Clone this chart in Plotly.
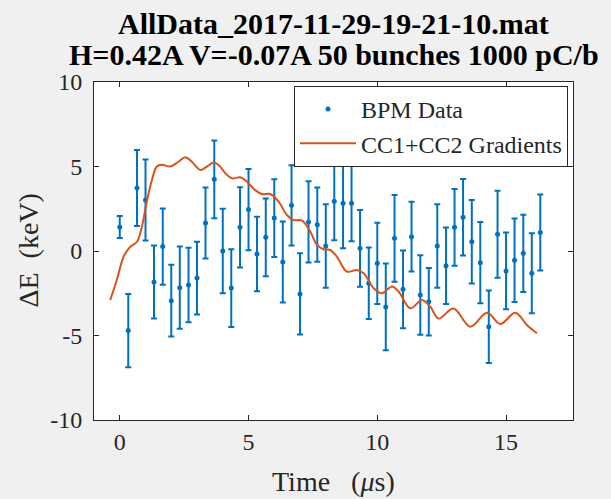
import plotly.graph_objects as go

# ---- data ----
bpm_time = [0.00, 0.33, 0.67, 1.00, 1.33, 1.67, 2.00, 2.33, 2.67, 3.00,
            3.33, 3.67, 4.00, 4.33, 4.67, 5.00, 5.33, 5.67, 6.00, 6.33,
            6.67, 7.00, 7.33, 7.67, 8.00, 8.33, 8.67, 9.00, 9.33, 9.67,
            10.00, 10.33, 10.67, 11.00, 11.33, 11.67, 12.00, 12.33, 12.67, 13.00,
            13.33, 13.67, 14.00, 14.33, 14.67, 15.00, 15.33, 15.67, 16.00, 16.33]
bpm_dE = [1.42, -4.71, 3.73, 3.02, -1.83, 0.26, -2.94, -2.17, -2.01, -1.60,
          1.66, 4.24, 0.00, -2.19, 1.40, 2.45, -0.18, 0.81, 1.95, -0.65,
          2.70, -2.54, 1.72, 1.56, 0.30, 2.94, 2.82, 2.82, 0.16, -1.91,
          -0.73, -3.31, 0.75, -2.27, 0.85, -2.60, -3.00, 0.30, -0.87, 1.40,
          2.00, 0.55, -0.69, -4.48, 0.99, -1.18, -0.55, -0.14, -1.32, 1.10]
bpm_err = [0.65, 2.17, 2.25, 2.40, 2.16, 2.25, 2.12, 2.43, 2.20, 2.15,
           2.10, 2.30, 2.50, 2.30, 2.37, 2.40, 2.20, 2.30, 2.30, 2.40,
           2.37, 2.40, 2.40, 2.20, 2.47, 2.30, 2.66, 2.25, 2.27, 2.11,
           2.40, 2.57, 2.57, 2.30, 2.07, 2.35, 2.00, 2.47, 2.26, 2.27,
           2.26, 2.47, 2.40, 2.14, 2.58, 2.27, 2.47, 2.28, 2.37, 2.25]

grad_time = [-0.37, -0.11, 0.15, 0.41, 0.67, 0.86, 1.06, 1.25, 1.44, 1.64,
             1.96, 2.28, 2.54, 2.80, 3.13, 3.39, 3.64, 3.84, 4.10, 4.36,
             4.68, 4.94, 5.26, 5.52, 5.84, 6.17, 6.49, 6.75, 7.08, 7.40,
             7.66, 7.91, 8.17, 8.43, 8.82, 9.21, 9.47, 9.86, 10.18, 10.57,
             10.83, 11.28, 11.74, 12.06, 12.38, 12.96, 13.61, 14.26, 14.78, 15.36,
             15.81, 16.20]
grad_dE = [-2.90, -1.70, -0.33, 0.25, 0.55, 1.44, 3.00, 4.20, 5.00, 5.10,
           5.00, 5.28, 5.54, 5.28, 4.80, 5.00, 5.23, 5.09, 4.60, 4.30,
           4.36, 4.10, 3.60, 3.37, 3.37, 2.92, 2.13, 1.83, 1.80, 1.14,
           0.36, 0.10, 0.06, -0.33, -1.22, -1.12, -1.32, -2.20, -2.50, -2.10,
           -2.40, -3.39, -2.90, -3.30, -4.00, -3.40, -4.48, -3.65, -4.32, -3.65,
           -4.38, -4.87]

x_ticks = [0, 5, 10, 15]
x_ticklabels = ["0", "5", "10", "15"]
y_ticks = [-10, -5, 0, 5, 10]
y_ticklabels = ["-10", "-5", "0", "5", "10"]

title_lines = ["AllData_2017-11-29-19-21-10.mat",
               "H=0.42A V=-0.07A 50 bunches 1000 pC/b"]
x_label = "Time&nbsp;&nbsp;&nbsp;(<i>μ</i>s)"
y_label = "ΔE&nbsp;&nbsp;(keV)"

FONT = "Liberation Serif"
BLUE = "#0072BD"
ORANGE = "#D95319"
AX = "#262626"

# plot-area geometry (pixels)
L, R, T, B = 94, 38, 82, 79
PW, PH = 611 - L - R, 499 - T - B

fig = go.Figure()
fig.add_trace(go.Scatter(
    x=bpm_time, y=bpm_dE, mode="markers", name="BPM Data",
    marker=dict(color=BLUE, size=5),
    error_y=dict(type="data", array=bpm_err, visible=True,
                 color=BLUE, thickness=2, width=3),
))
fig.add_trace(go.Scatter(
    x=grad_time, y=grad_dE, mode="lines", name="CC1+CC2 Gradients",
    line=dict(color=ORANGE, width=2, shape="spline", smoothing=1.0),
))

axis_common = dict(
    showgrid=False, zeroline=False, showline=True, linecolor=AX, linewidth=1,
    mirror="allticks", ticks="inside", ticklen=5, tickcolor=AX, tickwidth=1,
    tickfont=dict(family=FONT, size=24, color=AX), automargin=False,
)

def px_x(p):
    return (p - L) / PW

def px_y(p):
    return (499 - B - p) / PH

fig.update_layout(
    width=611, height=499,
    paper_bgcolor="#f0f0f0", plot_bgcolor="white",
    margin=dict(l=L, r=R, t=T, b=B),
    showlegend=True,
    legend=dict(x=px_x(568), y=px_y(86), xanchor="right", yanchor="top",
                bgcolor="white", bordercolor=AX, borderwidth=1,
                font=dict(family=FONT, size=24, color=AX),
                tracegroupgap=0, itemwidth=56),
    xaxis=dict(range=[-1, 17.6], tickvals=x_ticks, ticktext=x_ticklabels,
               **axis_common),
    yaxis=dict(range=[-10, 10], tickvals=y_ticks, ticktext=y_ticklabels,
               ticklabelstandoff=6, **axis_common),
    annotations=[
        dict(text="<b>%s</b>" % title_lines[0], xref="paper", yref="paper",
             x=0.5, y=px_y(23), xanchor="center", yanchor="middle",
             showarrow=False, font=dict(family=FONT, size=30, color="black")),
        dict(text="<b>%s</b>" % title_lines[1], xref="paper", yref="paper",
             x=0.5, y=px_y(54), xanchor="center", yanchor="middle",
             showarrow=False, font=dict(family=FONT, size=30, color="black")),
        dict(text=x_label, xref="paper", yref="paper",
             x=0.5, y=px_y(481), xanchor="center", yanchor="middle",
             showarrow=False, font=dict(family=FONT, size=28, color=AX)),
        dict(text=y_label, xref="paper", yref="paper", textangle=-90,
             x=px_x(27.5), y=0.5, xanchor="center", yanchor="middle",
             showarrow=False, font=dict(family=FONT, size=28, color=AX)),
    ],
)

fig.write_html("out.html",
               config={"displayModeBar": False},
               post_script="document.body.style.margin='0px';")
